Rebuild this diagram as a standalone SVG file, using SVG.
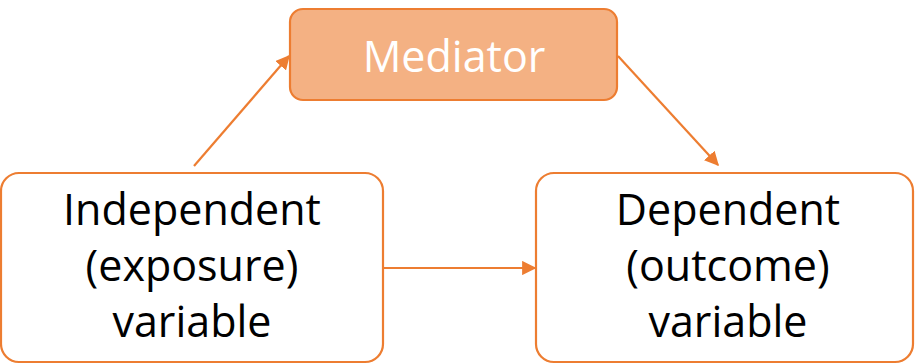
<svg xmlns="http://www.w3.org/2000/svg" width="915" height="364" viewBox="0 0 915 364">
  <style>
    .box { fill: #FFFFFF; stroke: #ED7D31; stroke-width: 2.2; }
    .med { fill: #F4B183; stroke: #ED7D31; stroke-width: 2.2; }
    .lbl { font-family: "Open Sans", "Noto Sans", sans-serif; font-size: 43px; text-anchor: middle; fill: #000000; }
    .lbl-w { fill: #FFFFFF; }
    .conn { stroke: #ED7D31; stroke-width: 2.2; fill: none; marker-end: url(#arrow); }
  </style>
  <defs>
    <marker id="arrow" viewBox="0 0 10 10" refX="9" refY="5" markerWidth="6.5" markerHeight="6.5" markerUnits="strokeWidth" orient="auto">
      <path d="M0,0 L10,5 L0,10 z" fill="#ED7D31"/>
    </marker>
  </defs>

  <g id="connectors">
    <line class="conn" x1="194" y1="166" x2="289" y2="56"/>
    <line class="conn" x1="618" y1="56" x2="718" y2="165"/>
    <line class="conn" x1="384" y1="268" x2="535" y2="268"/>
  </g>

  <g id="mediator">
    <rect class="med" x="290" y="9" width="327" height="91" rx="13"/>
    <text class="lbl lbl-w" x="454" y="72">Mediator</text>
  </g>

  <g id="independent">
    <rect class="box" x="1" y="173" width="382" height="189" rx="18"/>
    <text class="lbl" x="192" y="225">Independent</text>
    <text class="lbl" x="192" y="281">(exposure)</text>
    <text class="lbl" x="192" y="337">variable</text>
  </g>

  <g id="dependent">
    <rect class="box" x="536" y="173" width="377" height="189" rx="18"/>
    <text class="lbl" x="728" y="225">Dependent</text>
    <text class="lbl" x="728" y="281">(outcome)</text>
    <text class="lbl" x="728" y="337">variable</text>
  </g>
</svg>
